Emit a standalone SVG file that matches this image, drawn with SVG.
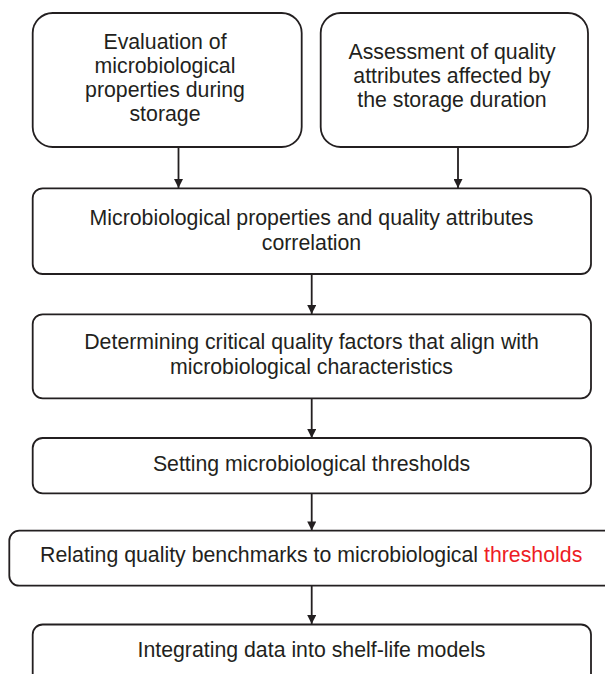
<svg xmlns="http://www.w3.org/2000/svg" width="605" height="674" viewBox="0 0 605 674">
  <style>
    .box { fill: #ffffff; stroke: #231f20; stroke-width: 1.8; }
    .lbl { font-family: "Liberation Sans", Arial, Helvetica, sans-serif; font-size: 21.3px; fill: #231f20; text-anchor: middle; }
    .red { fill: #ed1c24; }
    .conn { stroke: #231f20; stroke-width: 1.8; fill: none; marker-end: url(#head); }
  </style>
  <defs>
    <marker id="head" viewBox="0 0 10 10" refX="10" refY="5" markerUnits="userSpaceOnUse" markerWidth="10" markerHeight="9" orient="auto">
      <path d="M0,0 L10,5 L0,10 Z" fill="#231f20"/>
    </marker>
  </defs>
  <rect width="605" height="674" fill="#ffffff"/>

  <g id="connectors">
    <line class="conn" x1="178.5" y1="147" x2="178.5" y2="188"/>
    <line class="conn" x1="458" y1="147" x2="458" y2="188"/>
    <line class="conn" x1="311.7" y1="274" x2="311.7" y2="314"/>
    <line class="conn" x1="311.7" y1="398.3" x2="311.7" y2="438"/>
    <line class="conn" x1="311.7" y1="493.3" x2="311.7" y2="530.5"/>
    <line class="conn" x1="311.7" y1="585.7" x2="311.7" y2="624"/>
  </g>

  <g id="node-microbial-eval">
    <rect class="box" x="32.7" y="13" width="269" height="134" rx="20"/>
    <text class="lbl" x="165" y="48.5">Evaluation of</text>
    <text class="lbl" x="165" y="72.5">microbiological</text>
    <text class="lbl" x="165" y="96.5">properties during</text>
    <text class="lbl" x="165" y="120.5">storage</text>
  </g>

  <g id="node-quality-assess">
    <rect class="box" x="320.7" y="13" width="267.3" height="134" rx="20"/>
    <text class="lbl" x="452" y="58.5">Assessment of quality</text>
    <text class="lbl" x="452" y="82.5">attributes affected by</text>
    <text class="lbl" x="452" y="106.5">the storage duration</text>
  </g>

  <g id="node-correlation">
    <rect class="box" x="32.7" y="188.3" width="558.3" height="85.7" rx="10"/>
    <text class="lbl" x="311.5" y="225">Microbiological properties and quality attributes</text>
    <text class="lbl" x="311.5" y="250">correlation</text>
  </g>

  <g id="node-critical-factors">
    <rect class="box" x="32.7" y="314.3" width="558.3" height="84" rx="10"/>
    <text class="lbl" x="311.5" y="349.3">Determining critical quality factors that align with</text>
    <text class="lbl" x="311.5" y="374.3">microbiological characteristics</text>
  </g>

  <g id="node-thresholds">
    <rect class="box" x="32.7" y="438" width="558.3" height="55.3" rx="10"/>
    <text class="lbl" x="311.5" y="470.7">Setting microbiological thresholds</text>
  </g>

  <g id="node-benchmarks">
    <rect class="box" x="9.3" y="530.7" width="620" height="55" rx="10"/>
    <text class="lbl" x="311.2" y="562.3">Relating quality benchmarks to microbiological <tspan class="red">thresholds</tspan></text>
  </g>

  <g id="node-shelf-life">
    <rect class="box" x="32.7" y="624.5" width="558.3" height="70" rx="10"/>
    <text class="lbl" x="311.5" y="657.3">Integrating data into shelf-life models</text>
  </g>
</svg>
